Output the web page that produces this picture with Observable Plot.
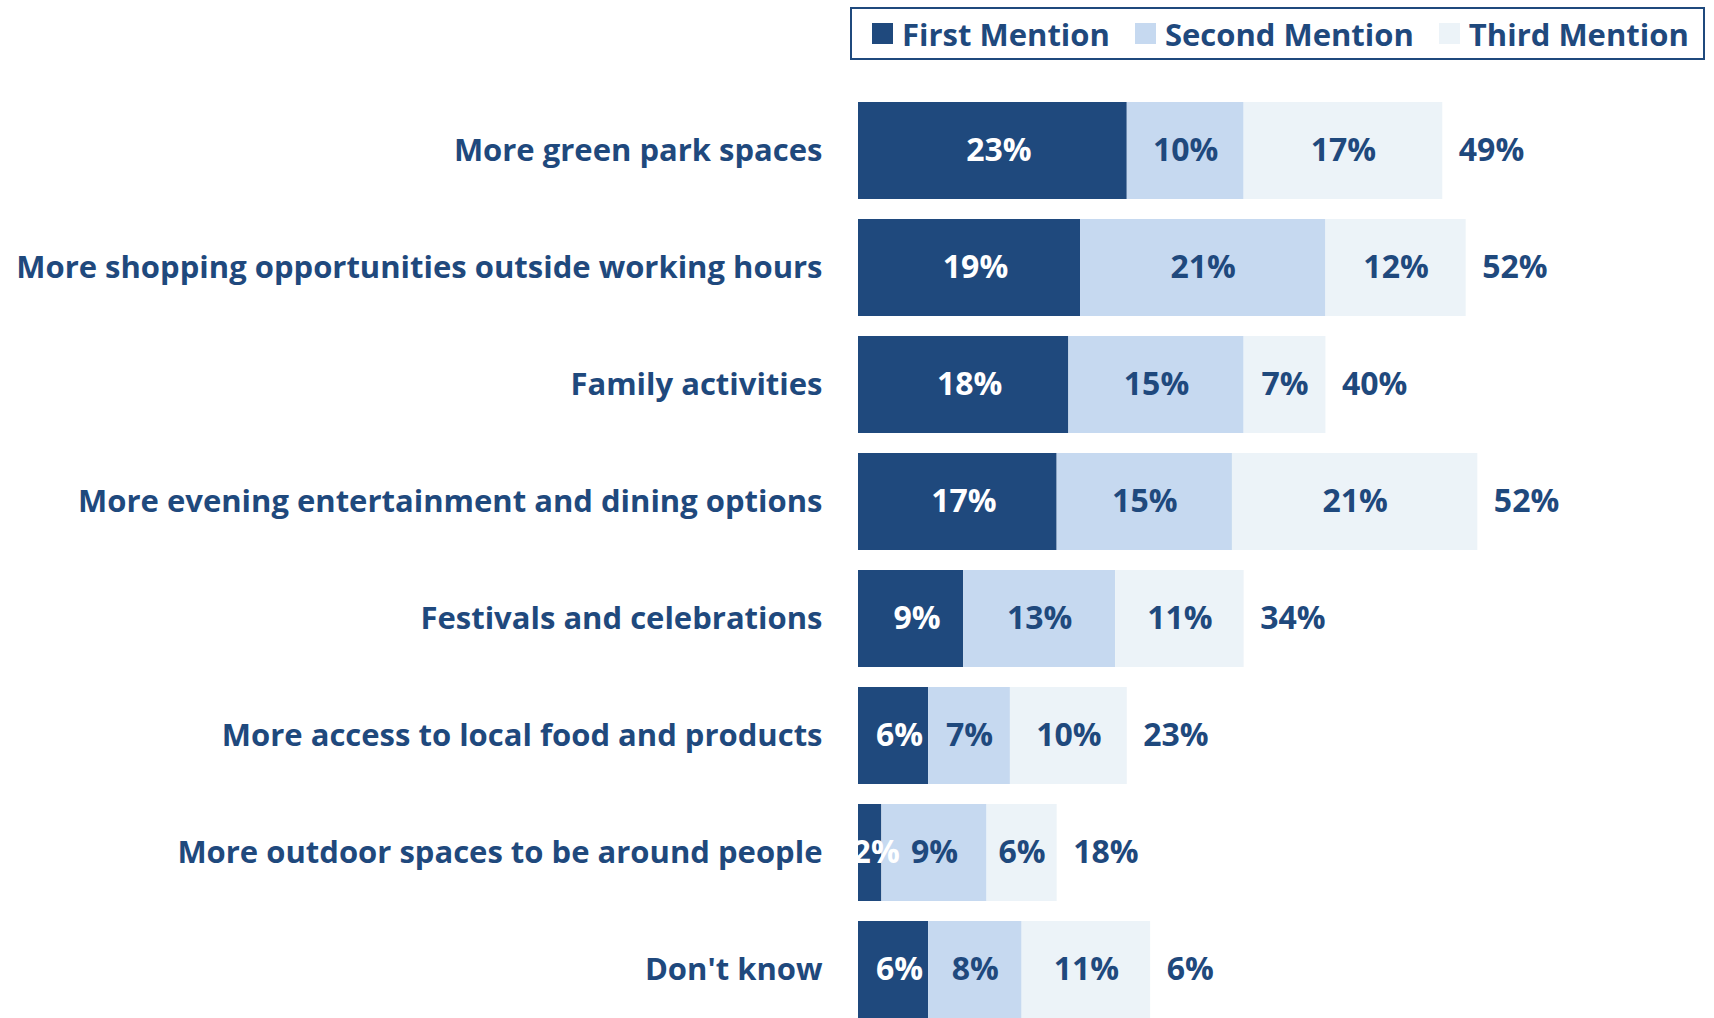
<!DOCTYPE html>
<html>
<head>
<meta charset="utf-8">
<script src="https://cdn.jsdelivr.net/npm/d3@7"></script>
<script src="https://cdn.jsdelivr.net/npm/@observablehq/plot@0.6"></script>
<style>
  html, body { margin: 0; padding: 0; background: #fff; overflow: hidden; }
  #legendWrap { position: relative; height: 66px; width: 1714px; }
  #legend { position: absolute; left: 850px; top: 7px; width: 851px; height: 49px;
            border: 2px solid #1F497D; display: flex; align-items: center; box-sizing: content-box;
            font-family: "Open Sans", Lato, sans-serif; font-weight: bold; font-size: 31px; color: #1F497D; }
  .item { display: flex; align-items: center; }
  .sw { width: 21px; height: 21px; margin-right: 9px; }
</style>
</head>
<body>
<div id="legendWrap"><div id="legend"></div></div>
<div id="chart"></div>
<script>
const categories = [
  "More green park spaces",
  "More shopping opportunities outside working hours",
  "Family activities",
  "More evening entertainment and dining options",
  "Festivals and celebrations",
  "More access to local food and products",
  "More outdoor spaces to be around people",
  "Don't know"
];
const seriesNames = ["First Mention", "Second Mention", "Third Mention"];
const firstMention  = [23, 19, 18, 17, 9, 6, 2, 6];
const secondMention = [10, 21, 15, 15, 13, 7, 9, 8];
const thirdMention  = [17, 12, 7, 21, 11, 10, 6, 11];
const totals        = [49, 52, 40, 52, 34, 23, 18, 6];
const colors = ["#1F497D", "#C6D9F0", "#ECF3F8"];
const textDark = "#1F497D";
const FONT = '"Open Sans", Lato, sans-serif';
const FS = 31;
const VS = 32;

const seriesValues = [firstMention, secondMention, thirdMention];
const rows = [];
categories.forEach((c, i) => {
  let acc = 0;
  seriesValues.forEach((vals, s) => {
    rows.push({category: c, series: seriesNames[s], value: vals[i], x1: acc, x2: acc + vals[i]});
    acc += vals[i];
  });
});
const totalRows = categories.map((c, i) => ({
  category: c, total: totals[i], end: d3.sum(seriesValues, v => v[i])
}));

// legend
const leg = document.getElementById("legend");
const gaps = [20, 25, 25];
seriesNames.forEach((n, i) => {
  const it = document.createElement("div");
  it.className = "item";
  it.style.marginLeft = gaps[i] + "px";
  const sw = document.createElement("div");
  sw.className = "sw";
  sw.style.background = colors[i];
  const t = document.createElement("span");
  t.textContent = n;
  it.appendChild(sw); it.appendChild(t);
  leg.appendChild(it);
});

const chart = Plot.plot({
  width: 1714,
  height: 976,
  marginLeft: 858,
  marginRight: 38,
  marginTop: 12,
  marginBottom: 0,
  style: {fontFamily: FONT, fontWeight: "bold", background: "white"},
  x: {domain: [0, 70], axis: null},
  y: {domain: categories, padding: 0.175, label: null},
  color: {domain: seriesNames, range: colors},
  marks: [
    Plot.barX(rows, {y: "category", x1: "x1", x2: "x2", fill: "series"}),
    Plot.text(rows.filter(d => d.series === "First Mention"),
      {y: "category", x: d => (d.x1 + d.x2) / 2, text: d => d.value + "%", dx: 6, fill: "white", fontSize: VS, fontWeight: "bold"}),
    Plot.text(rows.filter(d => d.series !== "First Mention"),
      {y: "category", x: d => (d.x1 + d.x2) / 2, text: d => d.value + "%", fill: textDark, fontSize: VS, fontWeight: "bold"}),
    Plot.text(totalRows,
      {y: "category", x: "end", text: d => d.total + "%", dx: 16, textAnchor: "start", fill: textDark, fontSize: VS, fontWeight: "bold"}),
    Plot.axisY({tickSize: 0, tickPadding: 36, fontSize: FS, color: textDark, label: null})
  ]
});
document.getElementById("chart").appendChild(chart);
</script>
</body>
</html>
